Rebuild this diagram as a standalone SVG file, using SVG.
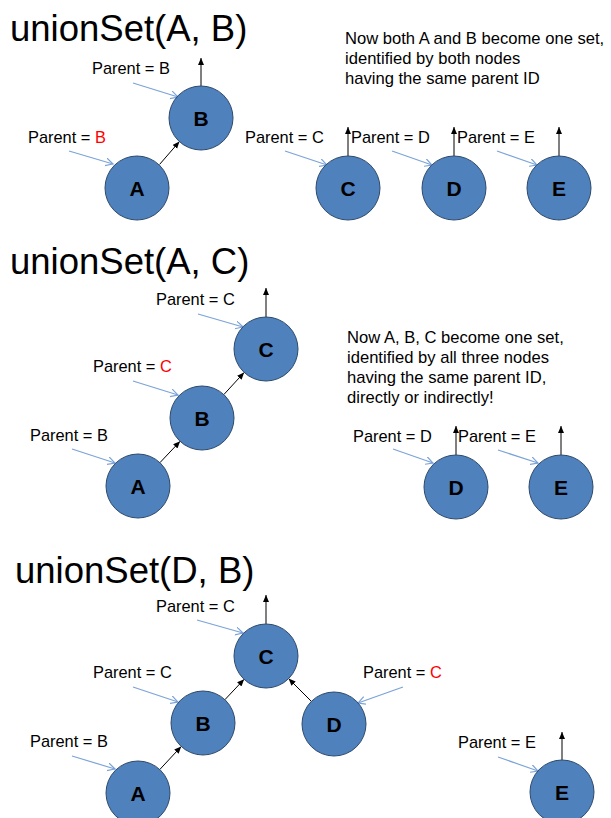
<svg xmlns="http://www.w3.org/2000/svg" width="611" height="818" viewBox="0 0 611 818">
<style>
.title{font-family:"Liberation Sans",Arial,sans-serif;font-size:36.5px;fill:#000}
.lbl{font-family:"Liberation Sans",Arial,sans-serif;font-size:16.4px;fill:#000}
.note{font-family:"Liberation Sans",Arial,sans-serif;font-size:16.6px;fill:#000}
.red{fill:#ff0000}
.node circle{fill:#4f81bd;stroke:#2e4a6b;stroke-width:1}
.node text{font-family:"Liberation Sans",Arial,sans-serif;font-size:21px;font-weight:bold;fill:#000;text-anchor:middle}
.edge{stroke:#000;stroke-width:1;fill:none;marker-end:url(#ah)}
.ptr{stroke:#7ba3d8;stroke-width:1.2;fill:none;marker-end:url(#bh)}
</style>
<defs>
<marker id="ah" markerUnits="userSpaceOnUse" markerWidth="8" markerHeight="7" refX="7" refY="3" orient="auto">
<path d="M0,0 L7,3 L0,6 z" fill="#000"/>
</marker>
<marker id="bh" markerUnits="userSpaceOnUse" markerWidth="9" markerHeight="9" refX="7.5" refY="4" orient="auto">
<path d="M0,0 L7.5,4 L0,8" fill="none" stroke="#7ba3d8" stroke-width="1.2"/>
</marker>
</defs>
<rect width="611" height="818" fill="#fff"/>

<g id="texts">
<text class="title" x="10" y="41">unionSet(A, B)</text>
<text class="note" x="345" y="44">Now both A and B become one set,</text>
<text class="note" x="345" y="64">identified by both nodes</text>
<text class="note" x="345" y="84">having the same parent ID</text>

<text class="title" x="10" y="274">unionSet(A, C)</text>
<text class="note" x="347" y="343">Now A, B, C become one set,</text>
<text class="note" x="347" y="363">identified by all three nodes</text>
<text class="note" x="347" y="383">having the same parent ID,</text>
<text class="note" x="347" y="403">directly or indirectly!</text>

<text class="title" x="15" y="583">unionSet(D, B)</text>
</g>

<g id="labels">
<text class="lbl" x="92" y="74">Parent = B</text>
<text class="lbl" x="28" y="143">Parent = <tspan class="red">B</tspan></text>
<text class="lbl" x="245" y="143">Parent = C</text>
<text class="lbl" x="351" y="143">Parent = D</text>
<text class="lbl" x="457" y="143">Parent = E</text>

<text class="lbl" x="156" y="305">Parent = C</text>
<text class="lbl" x="93" y="372">Parent = <tspan class="red">C</tspan></text>
<text class="lbl" x="30" y="441">Parent = B</text>
<text class="lbl" x="353" y="442">Parent = D</text>
<text class="lbl" x="458" y="442">Parent = E</text>

<text class="lbl" x="156" y="612">Parent = C</text>
<text class="lbl" x="93" y="678">Parent = C</text>
<text class="lbl" x="30" y="747">Parent = B</text>
<text class="lbl" x="363" y="678">Parent = <tspan class="red">C</tspan></text>
<text class="lbl" x="458" y="748">Parent = E</text>
</g>

<g id="connectors">
<line class="edge" x1="159.6" y1="164.4" x2="179.4" y2="141.6"/>
<line class="edge" x1="201" y1="86" x2="201" y2="58"/>
<line class="edge" x1="348" y1="156" x2="348" y2="127"/>
<line class="edge" x1="454" y1="156" x2="454" y2="127"/>
<line class="edge" x1="559" y1="156" x2="559" y2="127"/>
<line class="ptr" x1="133" y1="83" x2="178" y2="97"/>
<line class="ptr" x1="69" y1="151" x2="113" y2="164"/>
<line class="ptr" x1="285" y1="151" x2="327" y2="165"/>
<line class="ptr" x1="392" y1="151" x2="432" y2="165"/>
<line class="ptr" x1="497" y1="151" x2="537" y2="165"/>

<line class="edge" x1="159.9" y1="462.7" x2="180.1" y2="441.3"/>
<line class="edge" x1="223.9" y1="394.5" x2="244.1" y2="372.5"/>
<line class="edge" x1="266" y1="317" x2="266" y2="288"/>
<line class="edge" x1="456" y1="455" x2="456" y2="426"/>
<line class="edge" x1="561" y1="455" x2="561" y2="426"/>
<line class="ptr" x1="198" y1="314" x2="243" y2="327"/>
<line class="ptr" x1="133" y1="381" x2="178" y2="395"/>
<line class="ptr" x1="72" y1="449" x2="115" y2="463"/>
<line class="ptr" x1="393" y1="449" x2="433" y2="463"/>
<line class="ptr" x1="498" y1="450" x2="538" y2="463"/>

<line class="edge" x1="159.8" y1="769.5" x2="181.2" y2="746.5"/>
<line class="edge" x1="224.9" y1="699.7" x2="244.1" y2="679.3"/>
<line class="edge" x1="311.4" y1="701.4" x2="288.6" y2="678.6"/>
<line class="edge" x1="266" y1="624" x2="266" y2="595"/>
<line class="edge" x1="562" y1="760" x2="562" y2="732"/>
<line class="ptr" x1="197" y1="620" x2="243" y2="633"/>
<line class="ptr" x1="133" y1="687" x2="178" y2="702"/>
<line class="ptr" x1="72" y1="756" x2="115" y2="769"/>
<line class="ptr" x1="403" y1="687" x2="358" y2="703"/>
<line class="ptr" x1="498" y1="757" x2="538" y2="771"/>
</g>

<g id="node-A1" class="node"><circle cx="137" cy="188" r="32"/><text x="137" y="195.5">A</text></g>
<g id="node-B1" class="node"><circle cx="201" cy="118" r="32"/><text x="201" y="125.5">B</text></g>
<g id="node-C1" class="node"><circle cx="348" cy="188" r="32"/><text x="348" y="195.5">C</text></g>
<g id="node-D1" class="node"><circle cx="454" cy="188" r="32"/><text x="454" y="195.5">D</text></g>
<g id="node-E1" class="node"><circle cx="559" cy="188" r="32"/><text x="559" y="195.5">E</text></g>

<g id="node-A2" class="node"><circle cx="138" cy="486" r="32"/><text x="138" y="493.5">A</text></g>
<g id="node-B2" class="node"><circle cx="202" cy="418" r="32"/><text x="202" y="425.5">B</text></g>
<g id="node-C2" class="node"><circle cx="266" cy="349" r="32"/><text x="266" y="356.5">C</text></g>
<g id="node-D2" class="node"><circle cx="456" cy="487" r="32"/><text x="456" y="494.5">D</text></g>
<g id="node-E2" class="node"><circle cx="561" cy="487" r="32"/><text x="561" y="494.5">E</text></g>

<g id="node-A3" class="node"><circle cx="138" cy="793" r="32"/><text x="138" y="800.5">A</text></g>
<g id="node-B3" class="node"><circle cx="203" cy="723" r="32"/><text x="203" y="730.5">B</text></g>
<g id="node-C3" class="node"><circle cx="266" cy="656" r="32"/><text x="266" y="663.5">C</text></g>
<g id="node-D3" class="node"><circle cx="334" cy="724" r="32"/><text x="334" y="731.5">D</text></g>
<g id="node-E3" class="node"><circle cx="562" cy="792" r="32"/><text x="562" y="799.5">E</text></g>
</svg>
